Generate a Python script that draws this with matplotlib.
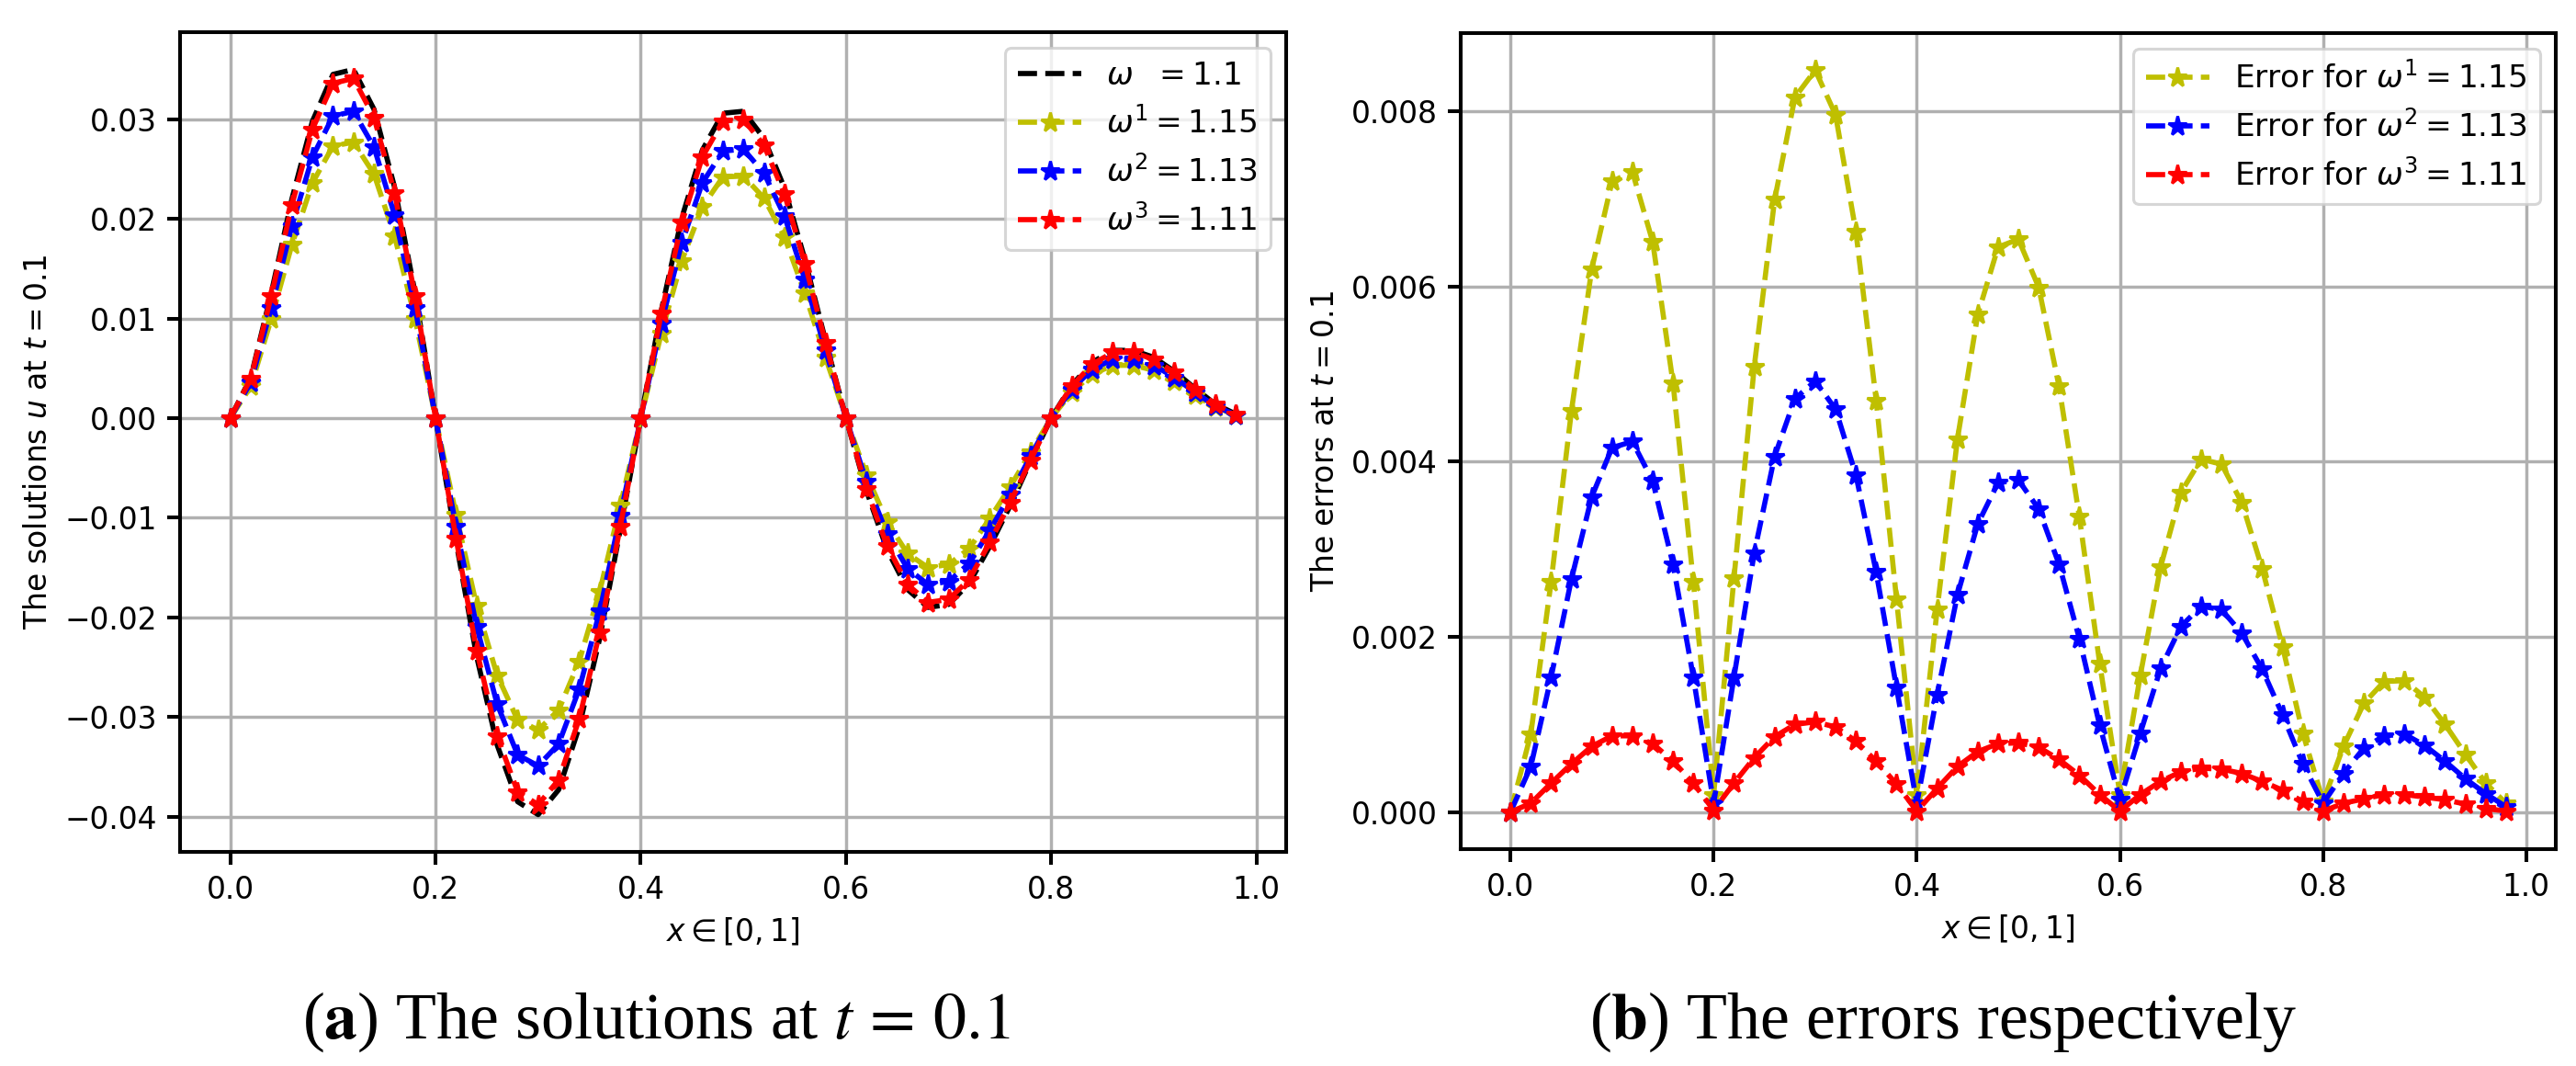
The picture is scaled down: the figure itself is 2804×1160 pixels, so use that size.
import matplotlib
matplotlib.use("Agg")
import matplotlib.pyplot as plt
import numpy as np

# ---------------- data ----------------
x = [0.00, 0.02, 0.04, 0.06, 0.08, 0.10, 0.12, 0.14, 0.16, 0.18,
     0.20, 0.22, 0.24, 0.26, 0.28, 0.30, 0.32, 0.34, 0.36, 0.38,
     0.40, 0.42, 0.44, 0.46, 0.48, 0.50, 0.52, 0.54, 0.56, 0.58,
     0.60, 0.62, 0.64, 0.66, 0.68, 0.70, 0.72, 0.74, 0.76, 0.78,
     0.80, 0.82, 0.84, 0.86, 0.88, 0.90, 0.92, 0.94, 0.96, 0.98]

u_exact = [0.0, 0.0041, 0.0126, 0.0220, 0.0298, 0.0345, 0.0350, 0.0310, 0.0232, 0.0126,
           0.0, -0.0124, -0.0239, -0.0328, -0.0385, -0.0398, -0.0373, -0.0310, -0.0221, -0.0112,
           0.0, 0.0108, 0.0201, 0.0269, 0.0306, 0.0308, 0.0281, 0.0231, 0.0159, 0.0078,
           0.0, -0.0073, -0.0132, -0.0172, -0.0190, -0.0187, -0.0166, -0.0129, -0.0088, -0.0043,
           0.0, 0.0033, 0.0056, 0.0068, 0.0068, 0.0061, 0.0047, 0.0030, 0.0014, 0.0004]

u_w1 = [0.0, 0.0032, 0.0100, 0.0174, 0.0236, 0.0273, 0.0277, 0.0245, 0.0183, 0.0100,
        0.0, -0.0097, -0.0188, -0.0258, -0.0303, -0.0313, -0.0293, -0.0244, -0.0174, -0.0088,
        0.0, 0.0085, 0.0158, 0.0212, 0.0242, 0.0243, 0.0221, 0.0182, 0.0125, 0.0061,
        0.0, -0.0057, -0.0104, -0.0136, -0.0150, -0.0147, -0.0131, -0.0101, -0.0069, -0.0034,
        0.0, 0.0026, 0.0044, 0.0053, 0.0053, 0.0048, 0.0037, 0.0023, 0.0011, 0.0003]

u_w2 = [0.0, 0.0036, 0.0111, 0.0193, 0.0262, 0.0303, 0.0308, 0.0272, 0.0204, 0.0111,
        0.0, -0.0109, -0.0209, -0.0287, -0.0338, -0.0349, -0.0327, -0.0272, -0.0194, -0.0098,
        0.0, 0.0095, 0.0176, 0.0236, 0.0268, 0.0270, 0.0246, 0.0203, 0.0139, 0.0068,
        0.0, -0.0064, -0.0116, -0.0151, -0.0167, -0.0164, -0.0146, -0.0113, -0.0077, -0.0038,
        0.0, 0.0029, 0.0049, 0.0059, 0.0059, 0.0053, 0.0041, 0.0026, 0.0012, 0.0003]

u_w3 = [0.0, 0.0040, 0.0123, 0.0214, 0.0290, 0.0336, 0.0341, 0.0302, 0.0226, 0.0123,
        0.0, -0.0121, -0.0233, -0.0319, -0.0375, -0.0388, -0.0363, -0.0302, -0.0215, -0.0109,
        0.0, 0.0105, 0.0196, 0.0262, 0.0298, 0.0300, 0.0274, 0.0225, 0.0155, 0.0076,
        0.0, -0.0071, -0.0128, -0.0167, -0.0185, -0.0182, -0.0162, -0.0125, -0.0085, -0.0042,
        0.0, 0.0032, 0.0054, 0.0066, 0.0066, 0.0059, 0.0046, 0.0029, 0.0014, 0.0004]

err_w1 = [0.0, 0.00089, 0.00263, 0.00458, 0.0062, 0.0072, 0.00731, 0.00651, 0.0049, 0.00263,
          0.0002, 0.00267, 0.00509, 0.00699, 0.00816, 0.00847, 0.00796, 0.00663, 0.0047, 0.00243,
          0.0002, 0.00231, 0.00426, 0.00568, 0.00645, 0.00654, 0.00599, 0.00486, 0.00337, 0.0017,
          0.0002, 0.00156, 0.0028, 0.00365, 0.00403, 0.00397, 0.00353, 0.00278, 0.00189, 0.0009,
          0.00012, 0.00075, 0.00124, 0.00149, 0.0015, 0.00131, 0.001, 0.00066, 0.00033, 0.0001]

err_w2 = [0.0, 0.00052, 0.00154, 0.00266, 0.0036, 0.00416, 0.00423, 0.00378, 0.00283, 0.00154,
          0.0001, 0.00154, 0.00296, 0.00406, 0.00472, 0.00492, 0.0046, 0.00385, 0.00274, 0.00142,
          0.0001, 0.00134, 0.00248, 0.00329, 0.00376, 0.00379, 0.00346, 0.00283, 0.00198, 0.00099,
          0.00014, 0.0009, 0.00164, 0.00212, 0.00235, 0.00231, 0.00204, 0.00163, 0.00111, 0.00055,
          0.0001, 0.00044, 0.00073, 0.00087, 0.00089, 0.00076, 0.00058, 0.00038, 0.00021, 0.00006]

err_w3 = [0.0, 0.0001, 0.00033, 0.00055, 0.00075, 0.00087, 0.00087, 0.00078, 0.00058, 0.00033,
          0.00002, 0.00033, 0.00062, 0.00086, 0.001, 0.00103, 0.00097, 0.00081, 0.00058, 0.00032,
          0.00001, 0.00027, 0.00052, 0.00069, 0.00078, 0.00079, 0.00074, 0.0006, 0.00042, 0.0002,
          0.00001, 0.0002, 0.00035, 0.00046, 0.0005, 0.00049, 0.00044, 0.00035, 0.00025, 0.00012,
          0.00001, 0.0001, 0.00015, 0.0002, 0.0002, 0.00017, 0.00014, 0.00009, 0.00004, 0.00001]

labels_left = [r'$\omega\ \ = 1.1$', r'$\omega^1 = 1.15$', r'$\omega^2 = 1.13$', r'$\omega^3 = 1.11$']
labels_right = [r'Error for $\omega^1 = 1.15$', r'Error for $\omega^2 = 1.13$',
                r'Error for $\omega^3 = 1.11$']
captions = [(r'($\mathbf{a}$) The solutions at $t\,=\,0.1$'), r'($\mathbf{b}$) The errors respectively']

# ---------------- style ----------------
plt.rcParams.update({
    'lines.linewidth': 1.8,
    'lines.markersize': 7,
    'grid.linewidth': 1.1,
    'axes.linewidth': 1.3,
    'xtick.major.width': 1.3,
    'ytick.major.width': 1.3,
    'xtick.major.size': 4.5,
    'ytick.major.size': 4.5,
    'font.size': 10.5,
    'legend.fontsize': 11,
})

# ---------------- figure ----------------
DPI = 225
W, H = 2804, 1160
fig = plt.figure(figsize=(W / DPI, H / DPI), dpi=DPI)
fig.patch.set_facecolor('white')

ax1 = fig.add_axes([196 / W, 1 - 927 / H, (1400 - 196) / W, (927 - 35) / H])
ax2 = fig.add_axes([1590 / W, 1 - 924 / H, (2782 - 1590) / W, (924 - 36) / H])

ax1.plot(x, u_exact, 'k--', label=labels_left[0])
ax1.plot(x, u_w1, 'y*--', label=labels_left[1])
ax1.plot(x, u_w2, 'b*--', label=labels_left[2])
ax1.plot(x, u_w3, 'r*--', label=labels_left[3])
ax1.grid(True)
ax1.set_xlabel(r'$x \in [0,1]$')
ax1.set_ylabel(r'The solutions $u$ at $t = 0.1$')
ax1.legend(loc='upper right')

ax2.plot(x, err_w1, 'y*--', label=labels_right[0])
ax2.plot(x, err_w2, 'b*--', label=labels_right[1])
ax2.plot(x, err_w3, 'r*--', label=labels_right[2])
ax2.grid(True)
ax2.set_xlabel(r'$x \in [0,1]$')
ax2.set_ylabel(r'The errors at $t = 0.1$')
ax2.legend(loc='upper right')

for ax in (ax1, ax2):
    ax.tick_params(labelsize=10.5)

for cx, cap in zip([714, 2115], captions):
    fig.text(cx / W, 1 - 1130 / H, cap, ha='center', va='baseline', fontsize=23,
             family='Liberation Serif', math_fontfamily='stix')

fig.savefig('out.png', dpi=DPI, facecolor='white')
